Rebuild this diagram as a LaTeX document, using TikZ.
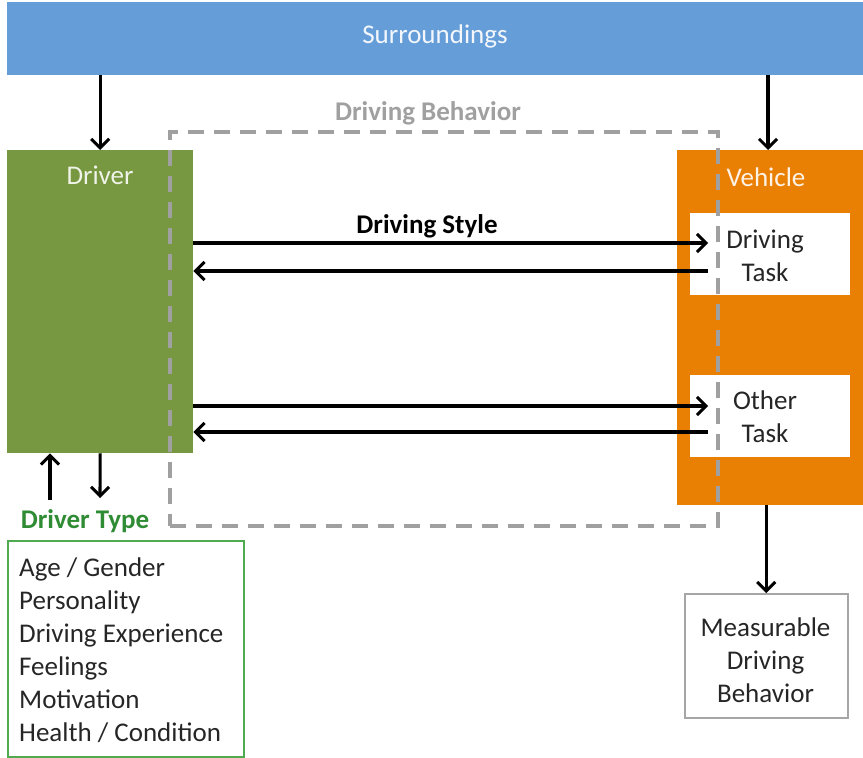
\documentclass[tikz,border=0pt]{standalone}
\usepackage{fontspec}
\setmainfont{Carlito}
\usetikzlibrary{arrows.meta}
\definecolor{skyblue}{RGB}{101,157,217}
\definecolor{olive}{RGB}{119,151,64}
\definecolor{vorange}{RGB}{233,127,3}
\definecolor{dtgreen}{RGB}{48,140,52}
\definecolor{boxgreen}{RGB}{80,170,80}
\definecolor{dashgray}{RGB}{160,160,160}
\begin{document}
\begin{tikzpicture}[x=1pt,y=-1pt,
  font=\fontsize{27}{33}\selectfont,
  block/.style={draw=none,inner sep=0pt,anchor=north west},
  taskbox/.style={fill=white,draw=none,inner sep=0pt,anchor=north west,
    minimum width=160pt,minimum height=82pt,align=center},
  arr/.style={line width=3.1pt,-{Straight Barb[length=9pt,width=18pt,line width=3pt]}},
  lbl/.style={inner sep=0pt},
  bold/.style={font=\fontsize{27}{33}\selectfont\bfseries}]
\useasboundingbox (0,0) rectangle (863,758);

% surroundings bar
\node[block,fill=skyblue,minimum width=856pt,minimum height=73pt] (srd) at (7,2) {};
\node[lbl,text=white!92!skyblue] (srdt) at (435,36) {Surroundings};

% driver and vehicle blocks
\node[block,fill=olive,minimum width=186pt,minimum height=303pt] (drv) at (7,150) {};
\node[lbl,text=white!88!olive] (drvt) at (100,175) {Driver};
\node[block,fill=vorange,minimum width=186pt,minimum height=355pt] (veh) at (677,150) {};
\node[lbl,text=white!90!vorange] (veht) at (766,177) {Vehicle};

% tasks inside the vehicle
\node[taskbox] (dtask) at (690,213) {};
\node[lbl,align=center,text=black!85] (dtaskt) at (765,256) {Driving\\Task};
\node[taskbox] (otask) at (690,375) {};
\node[lbl,align=center,text=black!85] (otaskt) at (765,417) {Other\\Task};

% driving behavior frame
\node[block,draw=dashgray,line width=4pt,dash pattern=on 16pt off 10pt,
  minimum width=548pt,minimum height=394pt] (frame) at (168,130) {};
\node[lbl,text=dashgray,bold] (framet) at (428,113) {Driving Behavior};

% surroundings act on driver and vehicle
\draw[arr] (srd.south -| drv.north) -- (drv.north);
\draw[arr] (srd.south -| 768,0) -- (veh.north -| 768,0);

% driver <-> task interaction
\coordinate (ds1) at (708,243);
\coordinate (ds2) at (708,271);
\coordinate (os1) at (708,406);
\coordinate (os2) at (708,432);
\draw[arr] (drv.east |- ds1) -- (ds1);
\draw[arr] (ds2) -- (drv.east |- ds2);
\draw[arr] (drv.east |- os1) -- (os1);
\draw[arr] (os2) -- (drv.east |- os2);
\node[lbl,bold] (dstyle) at (427,226) {Driving Style};

% driver type
\node[lbl,text=dtgreen,bold] (dtype) at (85,521) {Driver Type};
\node[block,draw=boxgreen,line width=1.5pt,minimum width=236pt,minimum height=216pt] (dtbox) at (7,540) {};
\node[lbl,anchor=north west,align=left,text=black!85] (dtlist) at (19,558)
  {Age / Gender\\Personality\\Driving Experience\\Feelings\\Motivation\\Health / Condition};
\draw[arr] (50,500) coordinate (up0) -- (drv.south -| up0);
\draw[arr] (drv.south) -- (100,498) coordinate (dn0);

% measurable behavior
\node[block,draw=black!35,line width=1.5pt,minimum width=163pt,minimum height=124pt] (meas) at (684,593) {};
\node[lbl,align=center,text=black!85] (meast) at (765.5,660) {Measurable\\Driving\\Behavior};
\draw[arr] (veh.south -| meas.north) -- (meas.north);
\end{tikzpicture}
\end{document}
